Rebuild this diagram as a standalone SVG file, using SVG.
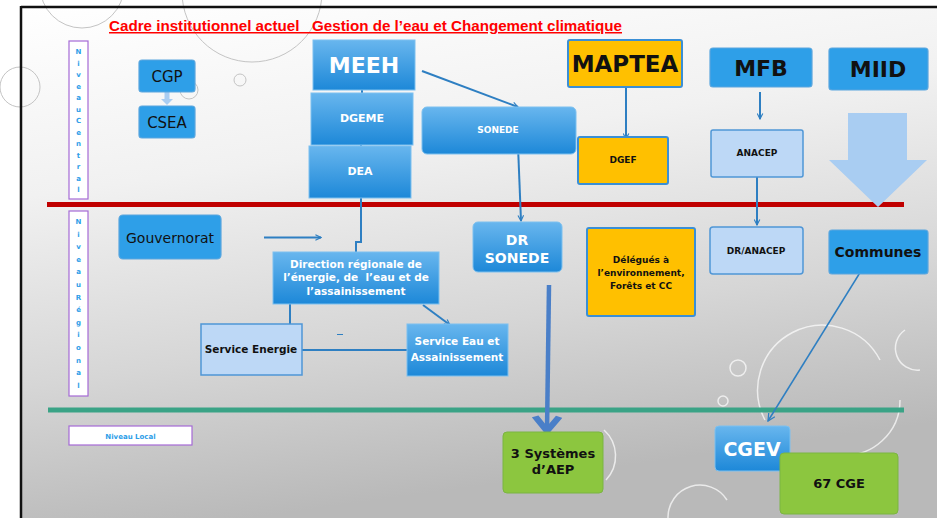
<svg xmlns="http://www.w3.org/2000/svg" width="937" height="518" viewBox="0 0 937 518">
<defs>
<linearGradient id="bg" x1="0" y1="0" x2="0.25" y2="1">
<stop offset="0" stop-color="#ffffff"/>
<stop offset="0.35" stop-color="#f1f1f1"/>
<stop offset="0.7" stop-color="#d6d6d6"/>
<stop offset="1" stop-color="#b9b9b9"/>
</linearGradient>
<linearGradient id="gB" x1="0" y1="0" x2="0" y2="1">
<stop offset="0" stop-color="#68b6ee"/>
<stop offset="1" stop-color="#1d88d8"/>
</linearGradient>
<marker id="arr" viewBox="0 0 10 10" refX="9" refY="5" markerWidth="7" markerHeight="7" orient="auto-start-reverse" markerUnits="userSpaceOnUse">
<path d="M1,1 L9,5 L1,9" fill="none" stroke="#2e7fc2" stroke-width="1.6"/>
</marker>
<marker id="arrS" viewBox="0 0 10 10" refX="9" refY="5" markerWidth="9" markerHeight="9" orient="auto" markerUnits="userSpaceOnUse">
<path d="M1,1 L9,5 L1,9" fill="none" stroke="#2e7fc2" stroke-width="1.4"/>
</marker>
<marker id="arrT" viewBox="0 0 10 10" refX="9" refY="5" markerWidth="18" markerHeight="30" orient="auto" markerUnits="userSpaceOnUse" preserveAspectRatio="none">
<path d="M1,1 L9,5 L1,9" fill="none" stroke="#4a7fc8" stroke-width="2.4"/>
</marker>
<style>
.t{font-family:"DejaVu Sans","Liberation Sans",sans-serif;font-weight:bold;text-anchor:middle}
.w{fill:#ffffff}
.k{fill:#111111}
.gb{fill:url(#gB);stroke:#7cc0ef;stroke-width:1}
.sb{fill:#2e9fe8;stroke:#5aa6de;stroke-width:1.2}
.yl{fill:#ffc000;stroke:#3a8fd6;stroke-width:2}
.lb{fill:#bdd8f6;stroke:#4f96d6;stroke-width:1.5}
.gr{fill:#8cc63f;stroke:#7bb542;stroke-width:1}
.vl{fill:#ffffff;stroke:#a56ad6;stroke-width:1.2}
.vt{font-family:"DejaVu Sans",sans-serif;font-weight:bold;font-size:7px;fill:#2e9ee8;text-anchor:middle}
.c{fill:none;stroke:#2e7fc2;stroke-width:2}
.bub{fill:none;stroke:#ffffff;stroke-width:1.5;stroke-opacity:0.7}
.bubs{fill:none;stroke:#c4c4c4;stroke-width:1}
</style>
</defs>
<rect x="0" y="0" width="937" height="518" fill="#ffffff"/>
<rect x="21" y="7" width="916" height="511" fill="url(#bg)"/>
<g id="decor">
<circle cx="82" cy="-14" r="42" class="bubs"/>
<circle cx="252" cy="-8" r="70" class="bubs"/>
<circle cx="240" cy="80" r="6" class="bubs"/>
<circle cx="20" cy="87" r="20" class="bubs"/>
<circle cx="189" cy="90" r="9" class="bubs"/>
<path d="M765,420 A60,60 0 0 1 880,360" class="bub"/>
<path d="M840,455 A55,55 0 0 0 900,400" class="bub"/>
<circle cx="723" cy="401" r="5" class="bub"/>
<circle cx="738" cy="368" r="8" class="bub"/>
<path d="M668,518 A32,32 0 0 1 727,500" class="bub"/>
<path d="M604,430 A35,35 0 0 1 606,480" class="bub"/>
<path d="M905,330 A22,22 0 0 0 920,370" class="bub"/>
</g>
<line x1="21" y1="7" x2="937" y2="7" stroke="#111111" stroke-width="2.5"/>
<line x1="21" y1="6" x2="21" y2="518" stroke="#111111" stroke-width="2.5"/>
<text x="109" y="31" xml:space="preserve" textLength="513" lengthAdjust="spacingAndGlyphs" style="font-family:'Liberation Sans',sans-serif;font-weight:bold;font-size:15px;fill:#ff0000;text-decoration:underline">Cadre institutionnel actuel   Gestion de l’eau et Changement climatique</text>
<g id="levels">
<line x1="47" y1="204.5" x2="904" y2="204.5" stroke="#c00000" stroke-width="5"/>
<line x1="48" y1="410" x2="904" y2="410" stroke="#3aa386" stroke-width="5"/>
</g>
<g id="niveau-central">
<rect x="69" y="41" width="19" height="158" class="vl"/>
<text class="vt"><tspan x="78.5" y="54">N</tspan><tspan x="78.5" y="65.5">i</tspan><tspan x="78.5" y="77">v</tspan><tspan x="78.5" y="88.5">e</tspan><tspan x="78.5" y="100">a</tspan><tspan x="78.5" y="111.5">u</tspan><tspan x="78.5" y="123">C</tspan><tspan x="78.5" y="134.5">e</tspan><tspan x="78.5" y="146">n</tspan><tspan x="78.5" y="157.5">t</tspan><tspan x="78.5" y="169">r</tspan><tspan x="78.5" y="180.5">a</tspan><tspan x="78.5" y="192">l</tspan></text>
</g>
<g id="niveau-regional">
<rect x="69" y="211" width="19" height="185" class="vl"/>
<text class="vt"><tspan x="78.5" y="224">N</tspan><tspan x="78.5" y="236.6">i</tspan><tspan x="78.5" y="249.2">v</tspan><tspan x="78.5" y="261.8">e</tspan><tspan x="78.5" y="274.4">a</tspan><tspan x="78.5" y="287">u</tspan><tspan x="78.5" y="299.6">R</tspan><tspan x="78.5" y="312.2">é</tspan><tspan x="78.5" y="324.8">g</tspan><tspan x="78.5" y="337.4">i</tspan><tspan x="78.5" y="350">o</tspan><tspan x="78.5" y="362.6">n</tspan><tspan x="78.5" y="375.2">a</tspan><tspan x="78.5" y="387.8">l</tspan></text>
</g>
<g id="niveau-local">
<rect x="69" y="426" width="123" height="19" class="vl"/>
<text x="130.5" y="438.5" class="vt">Niveau Local</text>
</g>
<g id="connectors">
<path d="M167,92 V100" stroke="#a9cdf2" stroke-width="5" fill="none"/>
<path d="M161,99 L173,99 L167,105 Z" fill="#a9cdf2"/>
<path d="M362,90 V93 M361,145 V146" class="c" stroke-width="1.2"/>
<path d="M361,198 V242 H356 V252" class="c" stroke-width="1.5"/>
<line x1="422" y1="71" x2="518" y2="107" class="c" marker-end="url(#arr)"/>
<line x1="518" y1="146" x2="521" y2="221" class="c" marker-end="url(#arr)"/>
<line x1="626" y1="88" x2="626" y2="139" class="c" marker-end="url(#arr)"/>
<line x1="760" y1="92" x2="760" y2="119" class="c" marker-end="url(#arr)"/>
<line x1="757" y1="177" x2="757" y2="225" class="c" marker-end="url(#arr)"/>
<line x1="264" y1="237.5" x2="321" y2="237.5" class="c" marker-end="url(#arr)"/>
<line x1="290" y1="304" x2="290" y2="324" class="c" stroke-width="1.5"/>
<line x1="302" y1="350" x2="407" y2="350" class="c" stroke-width="1.5"/>
<line x1="337" y1="334.5" x2="343" y2="334.5" stroke="#2e7fc2" stroke-width="1"/>
<line x1="423" y1="305" x2="450" y2="325" class="c" marker-end="url(#arr)"/>
<line x1="549" y1="285" x2="547" y2="431" stroke="#4a7fc8" stroke-width="4.5" marker-end="url(#arrT)"/>
<line x1="861" y1="271" x2="768" y2="421" stroke="#2e7fc2" stroke-width="1.5" marker-end="url(#arrS)"/>
<path d="M848,113 H907 V160 H927 L878,207 L829,160 H848 Z" fill="#a9cdf2"/>
</g>
<g id="CGP">
<rect x="139" y="60" width="56" height="32" rx="3" class="sb"/>
<text x="167" y="82" class="t k" style="font-weight:normal;font-size:15px">CGP</text>
</g>
<g id="CSEA">
<rect x="139" y="106" width="56" height="32" rx="3" class="sb"/>
<text x="167" y="128" class="t k" style="font-weight:normal;font-size:15px">CSEA</text>
</g>
<g id="MEEH">
<rect x="313" y="40" width="102" height="50" class="gb"/>
<text x="364" y="73" class="t w" style="font-size:22px">MEEH</text>
</g>
<g id="DGEME">
<rect x="311" y="93" width="102" height="52" class="gb"/>
<text x="362" y="122" class="t w" style="font-size:11px">DGEME</text>
</g>
<g id="DEA">
<rect x="309" y="146" width="102" height="52" class="gb"/>
<text x="360" y="175" class="t w" style="font-size:11px">DEA</text>
</g>
<g id="SONEDE">
<rect x="422" y="107" width="154" height="47" rx="5" class="gb"/>
<text x="498" y="133" class="t w" style="font-size:9px">SONEDE</text>
</g>
<g id="DR-SONEDE">
<rect x="473" y="222" width="89" height="50" rx="5" class="gb"/>
<text x="517" y="245" class="t w" style="font-size:14px">DR</text>
<text x="517" y="263" class="t w" style="font-size:14px">SONEDE</text>
</g>
<g id="MAPTEA">
<rect x="568" y="40" width="114" height="47" rx="2" class="yl"/>
<text x="625" y="72" class="t k" style="font-size:23px">MAPTEA</text>
</g>
<g id="DGEF">
<rect x="578" y="137" width="90" height="47" rx="2" class="yl"/>
<text x="623" y="163" class="t k" style="font-size:9px">DGEF</text>
</g>
<g id="MFB">
<rect x="710" y="48" width="102" height="39" rx="3" class="sb"/>
<text x="761" y="76" class="t k" style="font-size:22px">MFB</text>
</g>
<g id="ANACEP">
<rect x="711" y="130" width="92" height="47" rx="2" class="lb"/>
<text x="757" y="156" class="t k" style="font-size:9px">ANACEP</text>
</g>
<g id="DR-ANACEP">
<rect x="710" y="227" width="93" height="47" rx="3" class="lb"/>
<text x="756" y="254" class="t k" style="font-size:9px">DR/ANACEP</text>
</g>
<g id="MIID">
<rect x="829" y="48" width="99" height="42" rx="3" class="sb"/>
<text x="878" y="77" class="t k" style="font-size:22px">MIID</text>
</g>
<g id="Communes">
<rect x="829" y="230" width="99" height="44" rx="3" class="sb"/>
<text x="878" y="257" class="t k" style="font-size:14px">Communes</text>
</g>
<g id="Delegues">
<rect x="587" y="228" width="108" height="88" rx="2" class="yl"/>
<text x="641" y="263" class="t k" style="font-size:9px">Délégués à</text>
<text x="641" y="276" class="t k" style="font-size:9px">l’environnement,</text>
<text x="641" y="289" class="t k" style="font-size:9px">Forêts et CC</text>
</g>
<g id="Gouvernorat">
<rect x="119" y="215" width="102" height="44" rx="4" class="sb"/>
<text x="170" y="243" class="t k" style="font-weight:normal;font-size:14px">Gouvernorat</text>
</g>
<g id="Direction">
<rect x="273" y="252" width="166" height="52" class="gb"/>
<text x="356" y="268" class="t w" style="font-size:10.5px">Direction régionale de</text>
<text x="356" y="281" class="t w" style="font-size:10.5px" xml:space="preserve">l’énergie, de  l’eau et de</text>
<text x="356" y="295" class="t w" style="font-size:10.5px">l’assainissement</text>
</g>
<g id="Service-Energie">
<rect x="201" y="324" width="101" height="51" class="lb"/>
<text x="251" y="353" class="t k" style="font-size:10.5px">Service Energie</text>
</g>
<g id="Service-Eau">
<rect x="407" y="324" width="101" height="52" class="gb"/>
<text x="457" y="345" class="t w" style="font-size:10.5px">Service Eau et</text>
<text x="457" y="361" class="t w" style="font-size:10.5px">Assainissement</text>
</g>
<g id="Systemes-AEP">
<rect x="503" y="432" width="100" height="61" rx="4" class="gr"/>
<text x="553" y="458" class="t k" style="font-size:13px">3 Systèmes</text>
<text x="553" y="474" class="t k" style="font-size:13px">d’AEP</text>
</g>
<g id="CGEV">
<rect x="715" y="426" width="75" height="45" rx="4" class="gb"/>
<text x="752" y="456" class="t w" style="font-size:19px">CGEV</text>
</g>
<g id="CGE">
<rect x="780" y="453" width="118" height="61" rx="4" class="gr"/>
<text x="839" y="488" class="t k" style="font-size:13px">67 CGE</text>
</g>
</svg>
